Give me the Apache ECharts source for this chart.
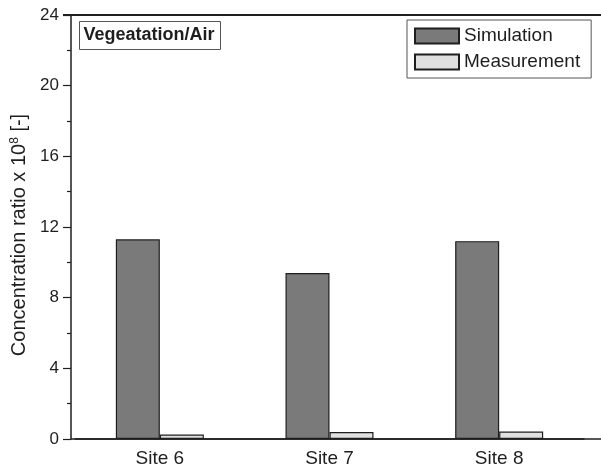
<!DOCTYPE html>
<html>
<head>
<meta charset="utf-8">
<script src="https://cdn.jsdelivr.net/npm/echarts@6/dist/echarts.min.js"></script>
<style>
  html, body { margin: 0; padding: 0; background: #fff; }
  #chart { width: 601px; height: 468px; }
</style>
</head>
<body>
<div id="chart"></div>
<script>
// Sites and concentration ratios (x 10^8)
const sites = ['Site 6', 'Site 7', 'Site 8'];
const simulation = [11.3, 9.4, 11.2];
const measurement = [0.25, 0.4, 0.42];
const yTicks = [0, 4, 8, 12, 16, 20, 24];

const FONT = 'Liberation Sans, Arial, sans-serif';
const INK = '#1e1e1e';

const chart = echarts.init(document.getElementById('chart'));

chart.setOption({
  animation: false,
  textStyle: { fontFamily: FONT },
  grid: { left: 75, top: 15, width: 509, bottom: 29 },
  legend: {
    left: 407, top: 20,
    orient: 'vertical',
    padding: [6, 11, 6, 7],
    itemGap: 6,
    itemWidth: 44, itemHeight: 15,
    icon: 'rect',
    borderColor: '#555', borderWidth: 1,
    textStyle: { fontSize: 19, lineHeight: 20, color: INK, fontFamily: FONT },
    data: ['Simulation', 'Measurement']
  },
  xAxis: {
    type: 'category',
    data: sites,
    axisLine: { lineStyle: { color: INK, width: 1.5 } },
    axisTick: { show: false },
    axisLabel: { color: INK, fontSize: 19, margin: 10, fontFamily: FONT }
  },
  yAxis: {
    type: 'value',
    min: 0, max: 24, interval: 4,
    offset: 4,
    name: 'Concentration ratio x 10{sup|8} [-]',
    nameLocation: 'middle',
    nameGap: 40,
    nameTextStyle: {
      fontSize: 20, color: INK, fontFamily: FONT,
      padding: [0, 16, 0, 0],
      rich: { sup: { fontSize: 12, verticalAlign: 'top', padding: [0, 0, 10, 0], color: INK, fontFamily: FONT } }
    },
    axisLine: { show: true, lineStyle: { color: INK, width: 1.5 } },
    axisTick: { show: true, inside: false, length: 8, lineStyle: { color: INK, width: 1.2 } },
    minorTick: { show: true, splitNumber: 2, length: 4, lineStyle: { color: INK, width: 1.2 } },
    splitLine: { show: false },
    axisLabel: {
      color: INK, fontSize: 17, margin: 12, fontFamily: FONT,
      formatter: v => yTicks.includes(v) ? String(v) : ''
    }
  },
  graphic: [
    // top frame line and continuation of the baseline
    { type: 'line', shape: { x1: 63, y1: 15, x2: 601, y2: 15 }, style: { stroke: INK, lineWidth: 1.8 } },
    { type: 'line', shape: { x1: 71, y1: 439, x2: 601, y2: 439 }, style: { stroke: INK, lineWidth: 1.5 } },
    // panel label
    {
      type: 'group', left: 79, top: 21,
      children: [
        { type: 'rect', shape: { x: 0, y: 0, width: 141, height: 28 }, style: { fill: '#fff', stroke: '#555', lineWidth: 1 } },
        { type: 'text', x: 4, y: 14, style: { text: 'Vegeatation/Air', fontFamily: FONT, fontSize: 18, fontWeight: 'bold', fill: INK, textVerticalAlign: 'middle' } }
      ]
    }
  ],
  series: [
    {
      name: 'Simulation', type: 'bar',
      data: simulation,
      barWidth: 44, barGap: '0%',
      itemStyle: { color: '#7a7a7a', borderColor: INK, borderWidth: 1.2 }
    },
    {
      name: 'Measurement', type: 'bar',
      data: measurement,
      barWidth: 44,
      itemStyle: { color: '#e0e0e0', borderColor: INK, borderWidth: 1.2 }
    }
  ]
});
</script>
</body>
</html>
